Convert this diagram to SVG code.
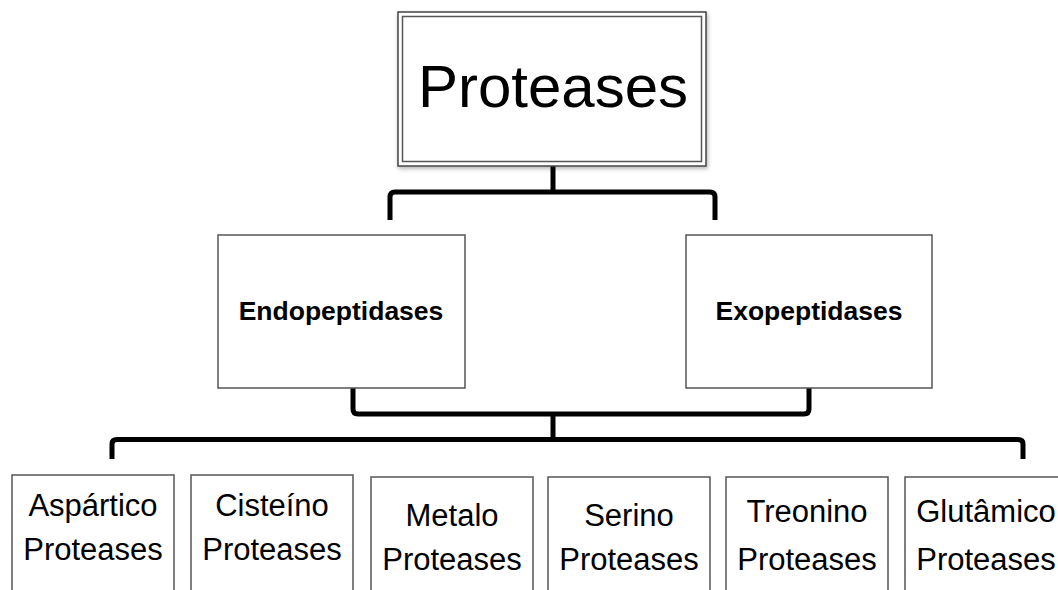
<svg xmlns="http://www.w3.org/2000/svg" width="1058" height="590" viewBox="0 0 1058 590">
<defs>
<style>
.box{fill:#fff;stroke:#555;stroke-width:1.5}
.dbl{fill:none;stroke:#555;stroke-width:1.5}
.conn{fill:none;stroke:#000;stroke-width:5;stroke-linejoin:round}
.t{font-family:"Liberation Sans",Arial,sans-serif;fill:#000;text-anchor:middle}
.lbl{font-size:31px}
.mid{font-size:26.5px;font-weight:bold}
.top{font-size:60px}
</style>
<filter id="sh" x="-10%" y="-10%" width="120%" height="120%">
<feDropShadow dx="1" dy="2" stdDeviation="2" flood-color="#000" flood-opacity="0.3"/>
</filter>
</defs>
<rect width="1058" height="590" fill="#fff"/>
<g id="connectors">
<path class="conn" d="M553 166 V192"/>
<path class="conn" d="M390 220 V197 Q390 192 395 192 H710 Q715 192 715 197 V220"/>
<path class="conn" d="M353 388 V409 Q353 414 358 414 H804 Q809 414 809 409 V388"/>
<path class="conn" d="M553 414 V440"/>
<path class="conn" d="M112 459 V444 Q112 439.5 117 439.5 H1018 Q1023 439.5 1023 444 V459"/>
</g>
<g id="proteases">
<rect x="398" y="12" width="308" height="154" fill="#fff" stroke="#444" stroke-width="1.5" filter="url(#sh)"/>
<rect class="dbl" x="402.5" y="16.5" width="299" height="145"/>
<text class="t top" x="553" y="107">Proteases</text>
</g>
<g id="endopeptidases">
<rect class="box" x="218" y="235" width="247" height="153"/>
<text class="t mid" x="341" y="320">Endopeptidases</text>
</g>
<g id="exopeptidases">
<rect class="box" x="686" y="235" width="246" height="153"/>
<text class="t mid" x="809" y="320">Exopeptidases</text>
</g>
<g id="aspartico">
<rect class="box" x="12" y="475" width="162" height="130"/>
<text class="t lbl" x="93" y="516">Aspártico</text>
<text class="t lbl" x="93" y="560">Proteases</text>
</g>
<g id="cisteino">
<rect class="box" x="191" y="475" width="162" height="130"/>
<text class="t lbl" x="272" y="516">Cisteíno</text>
<text class="t lbl" x="272" y="560">Proteases</text>
</g>
<g id="metalo">
<rect class="box" x="371" y="477" width="162" height="130"/>
<text class="t lbl" x="452" y="526">Metalo</text>
<text class="t lbl" x="452" y="570">Proteases</text>
</g>
<g id="serino">
<rect class="box" x="548" y="477" width="162" height="130"/>
<text class="t lbl" x="629" y="526">Serino</text>
<text class="t lbl" x="629" y="570">Proteases</text>
</g>
<g id="treonino">
<rect class="box" x="726" y="477" width="162" height="130"/>
<text class="t lbl" x="807" y="522">Treonino</text>
<text class="t lbl" x="807" y="570">Proteases</text>
</g>
<g id="glutamico">
<rect class="box" x="905" y="477" width="162" height="130"/>
<text class="t lbl" x="986" y="522">Glutâmico</text>
<text class="t lbl" x="986" y="570">Proteases</text>
</g>
</svg>
